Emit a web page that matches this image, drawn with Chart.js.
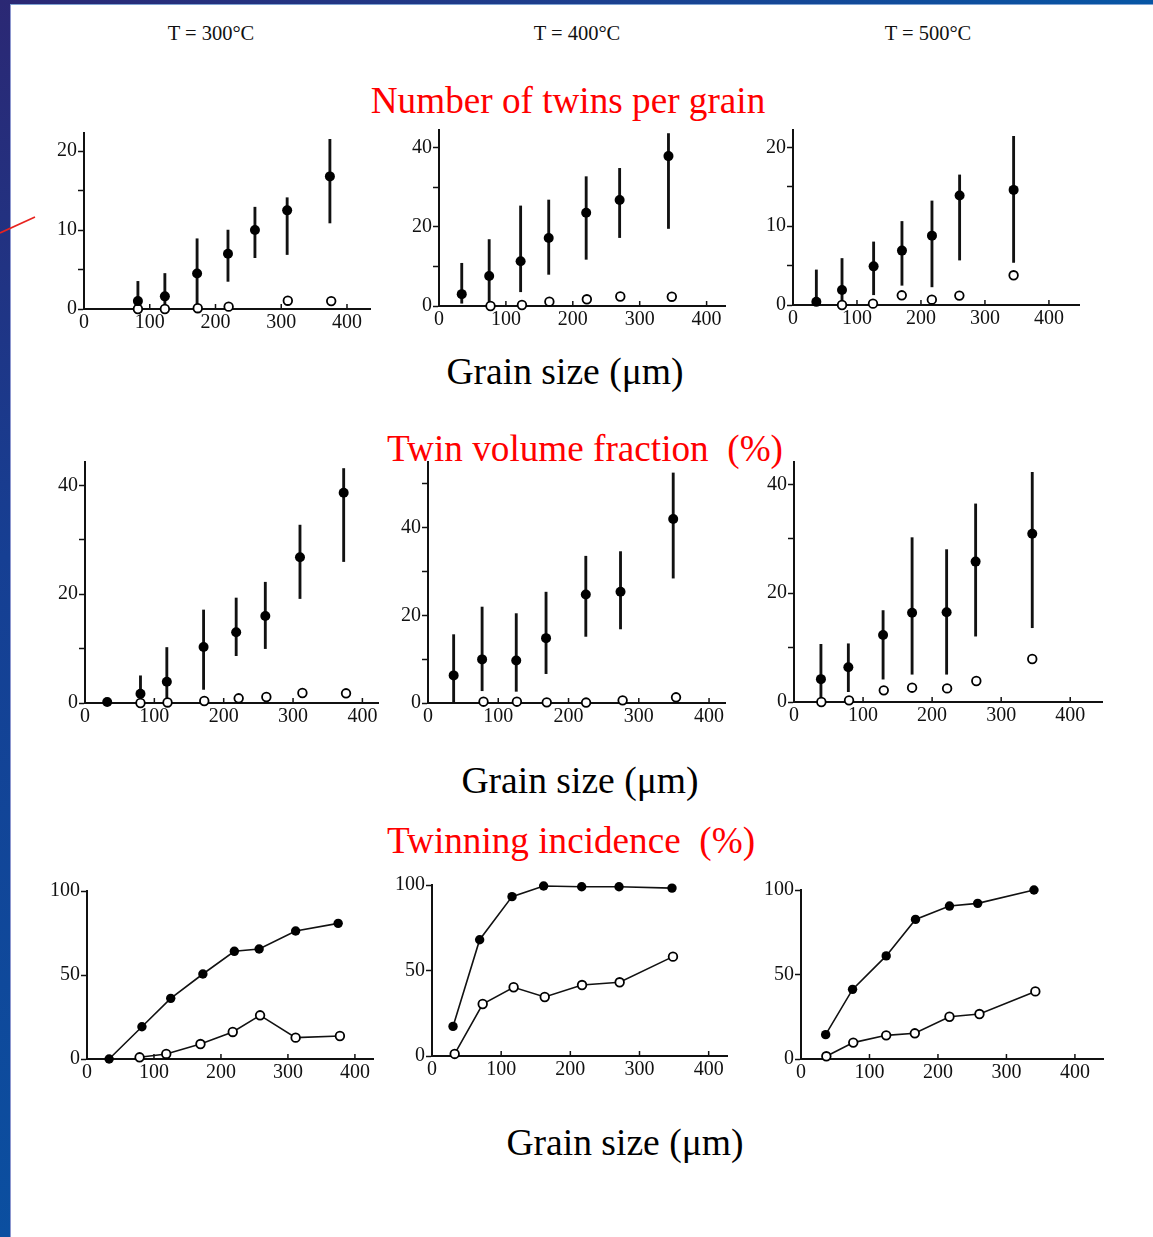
<!DOCTYPE html>
<html>
<head>
<meta charset="utf-8">
<title>Twinning vs grain size</title>
<script src="https://cdn.jsdelivr.net/npm/chart.js@4.4.1/dist/chart.umd.min.js"></script>
<style>
  html, body { margin: 0; padding: 0; background: #fff; }
  body { width: 1153px; height: 1237px; position: relative; overflow: hidden;
         font-family: 'Liberation Serif', 'Times New Roman', serif; }
  .frame-left { position: absolute; left: 0; top: 0; width: 10px; height: 1237px;
                background: linear-gradient(180deg, #2b2874 0%, #163f93 45%, #0b4fa0 100%); }
  .frame-left::after { content: ''; position: absolute; right: -1px; top: 4px; bottom: 0; width: 1px; background: #8d97cf; }
  .frame-top { position: absolute; left: 0; top: 0; width: 1153px; height: 4px;
               background: linear-gradient(90deg, #2b2874 0%, #1d3f8e 50%, #0756a5 100%); }
  .frame-top::after { content: ''; position: absolute; left: 10px; right: 0; bottom: -1px; height: 1px; background: #7fa3d3; }
  .panel { position: absolute; }
  .lbl { position: absolute; white-space: nowrap; line-height: 1; transform: translateX(-50%); }
  .temp { font-size: 20.5px; color: #111; }
  .head { font-size: 37.2px; color: #ff0000; }
  .axis-name { font-size: 37.6px; color: #000; }
  svg.mark { position: absolute; left: 0; top: 0; }
</style>
</head>
<body>
<div class="frame-left"></div>
<div class="frame-top"></div>
<svg class="mark" width="40" height="240"><line x1="0" y1="233" x2="35" y2="217" stroke="#e8231f" stroke-width="1.6"/></svg>

<div class="lbl temp" style="left:211px; top:23px;">T = 300°C</div>
<div class="lbl temp" style="left:577px; top:23px;">T = 400°C</div>
<div class="lbl temp" style="left:928px; top:23px;">T = 500°C</div>

<div class="lbl head" style="left:568px; top:82px;">Number of twins per grain</div>
<div class="lbl axis-name" style="left:565px; top:353px;">Grain size (μm)</div>
<div class="lbl head" style="left:585px; top:430px;">Twin volume fraction&nbsp; (%)</div>
<div class="lbl axis-name" style="left:580px; top:762px;">Grain size (μm)</div>
<div class="lbl head" style="left:571px; top:822px;">Twinning incidence&nbsp; (%)</div>
<div class="lbl axis-name" style="left:625px; top:1124px;">Grain size (μm)</div>

<canvas id="p1" class="panel"></canvas>
<canvas id="p2" class="panel"></canvas>
<canvas id="p3" class="panel"></canvas>
<canvas id="p4" class="panel"></canvas>
<canvas id="p5" class="panel"></canvas>
<canvas id="p6" class="panel"></canvas>
<canvas id="p7" class="panel"></canvas>
<canvas id="p8" class="panel"></canvas>
<canvas id="p9" class="panel"></canvas>

<script>
// ---- Number of twins per grain ----
const twins300SolidX  = [82, 123, 172, 219, 260, 309, 374];
const twins300SolidY  = [1.0, 1.6, 4.5, 7.0, 10.0, 12.5, 16.8];
const twins300Lo      = [0, 0, 0, 3.5, 6.5, 6.9, 10.9];
const twins300Hi      = [3.5, 4.5, 8.9, 10.0, 12.9, 14.1, 21.5];
const twins300HollowX = [82, 123, 173, 220, 310, 376];
const twins300HollowY = [0, 0, 0.1, 0.3, 1.05, 1.0];

const twins400SolidX  = [34, 75, 122, 164, 220, 270, 343];
const twins400SolidY  = [3.0, 7.6, 11.3, 17.2, 23.6, 26.8, 37.9];
const twins400Lo      = [0.7, 0, 3.6, 8.0, 11.8, 17.3, 19.6];
const twins400Hi      = [10.8, 16.8, 25.3, 26.8, 32.7, 34.8, 43.6];
const twins400HollowX = [77, 124, 165, 221, 271, 348];
const twins400HollowY = [0, 0.25, 1.1, 1.7, 2.4, 2.35];

const twins500SolidX  = [36.5, 76.6, 126, 170.3, 217.2, 260.4, 344.8];
const twins500SolidY  = [0.4, 1.9, 4.9, 6.9, 8.8, 13.9, 14.6];
const twins500Lo      = [0, 0, 1.3, 2.5, 2.3, 5.7, 5.4];
const twins500Hi      = [4.45, 5.9, 8.0, 10.6, 13.2, 16.5, 21.4];
const twins500HollowX = [76.6, 125, 170, 217, 260, 344.8];
const twins500HollowY = [0, 0.17, 1.23, 0.68, 1.19, 3.77];

// ---- Twin volume fraction (%) ----
const vol300SolidX  = [32, 80, 118, 171, 218, 260, 310, 373];
const vol300SolidY  = [0.2, 1.7, 3.9, 10.3, 13.0, 16.0, 26.8, 38.65];
const vol300Lo      = [0.2, 0, 0, 2.5, 8.7, 10.0, 19.2, 26.0];
const vol300Hi      = [0.2, 5.0, 10.2, 17.1, 19.3, 22.2, 32.7, 43.1];
const vol300HollowX = [80, 119, 172, 221.6, 261.5, 313.5, 376.4];
const vol300HollowY = [0, 0.1, 0.37, 0.86, 1.1, 1.84, 1.78];

const vol400SolidX  = [36.5, 77, 125.6, 168, 224.6, 274, 349];
const vol400SolidY  = [6.3, 9.95, 9.7, 14.8, 24.75, 25.4, 42.0];
const vol400Lo      = [0, 2.8, 2.66, 6.7, 15.2, 16.9, 28.5];
const vol400Hi      = [15.6, 21.9, 20.4, 25.3, 33.5, 34.55, 52.5];
const vol400HollowX = [79, 126.5, 169, 225, 277, 353];
const vol400HollowY = [0.3, 0.3, 0.15, 0.1, 0.6, 1.3];

const vol500SolidX  = [39, 78.7, 129, 171, 221, 263, 345];
const vol500SolidY  = [4.2, 6.4, 12.3, 16.4, 16.5, 25.8, 30.9];
const vol500Lo      = [0, 1.9, 4.2, 5.1, 5.1, 12.1, 13.65];
const vol500Hi      = [10.6, 10.7, 16.8, 30.2, 28.0, 36.4, 42.2];
const vol500HollowX = [39.6, 79.7, 130, 171, 221.7, 264, 345];
const vol500HollowY = [0, 0.3, 2.14, 2.63, 2.5, 3.86, 7.9];

// ---- Twinning incidence (%) ----
const inc300SolidX  = [33, 82, 125, 173, 220, 257, 311.5, 375];
const inc300SolidY  = [0, 19.2, 36.1, 50.6, 64.1, 65.5, 76.2, 80.75];
const inc300HollowX = [78.5, 118.3, 169.4, 217.6, 258.4, 311.5, 377.6];
const inc300HollowY = [1.0, 3.0, 8.9, 16.1, 26.0, 12.7, 13.7];

const inc400SolidX  = [30.4, 68.9, 115.7, 161.4, 216.4, 270.4, 347];
const inc400SolidY  = [17.3, 68.0, 93.2, 99.4, 99.0, 99.0, 98.2];
const inc400HollowX = [32.8, 73.3, 118, 163, 216.9, 271.3, 348.4];
const inc400HollowY = [1.2, 30.4, 40.2, 34.5, 41.5, 43.1, 58.1];

const inc500SolidX  = [36, 75.3, 124.4, 167.2, 216.8, 258, 340.2];
const inc500SolidY  = [14.4, 41.2, 61, 82.6, 90.5, 92.1, 100];
const inc500HollowX = [37, 76.3, 124.4, 166.2, 216.8, 260.6, 342.2];
const inc500HollowY = [1.6, 9.7, 14.0, 15.2, 25.0, 26.6, 40.0];

const xTickValues = [0, 100, 200, 300, 400];

// ---------------------------------------------------------------
Chart.defaults.font.family = "'Liberation Serif', 'Times New Roman', serif";
Chart.defaults.font.size = 20;
Chart.defaults.color = '#111';

const INK = '#111';
const Y_AXIS_W = 46, X_AXIS_H = 34, PAD_T = 16, PAD_R = 8;

// short tick marks pointing up from the x axis
const innerXTicks = {
  id: 'innerXTicks',
  afterDatasetsDraw(chart) {
    const xs = chart.scales.x, ctx = chart.ctx, y = chart.chartArea.bottom;
    ctx.save();
    ctx.strokeStyle = INK;
    ctx.lineWidth = 1.5;
    xs.ticks.forEach(t => {
      if (t.value === 0) return;
      const px = xs.getPixelForValue(t.value);
      ctx.beginPath();
      ctx.moveTo(px, y);
      ctx.lineTo(px, y - 5);
      ctx.stroke();
    });
    ctx.restore();
  }
};

const points = (xs, ys) => xs.map((x, i) => ({ x, y: ys[i] }));
const ranges = (xs, lo, hi) => xs.map((x, i) => ({ x, y: [lo[i], hi[i]] }));

function solidSet(xs, ys, joined) {
  return {
    type: 'scatter', data: points(xs, ys), order: 1, clip: false,
    pointRadius: joined ? 4.7 : 5, pointBackgroundColor: '#000', pointBorderColor: '#000', pointBorderWidth: 0,
    showLine: !!joined, borderColor: INK, borderWidth: 1.6
  };
}
function hollowSet(xs, ys, joined) {
  return {
    type: 'scatter', data: points(xs, ys), order: 2, clip: false,
    pointRadius: 4.3, pointBackgroundColor: '#fff', pointBorderColor: '#000', pointBorderWidth: 1.8,
    showLine: !!joined, borderColor: INK, borderWidth: 1.6
  };
}
function barsSet(xs, lo, hi) {
  return {
    type: 'bar', data: ranges(xs, lo, hi), order: 3, clip: false,
    barThickness: 2.2, backgroundColor: INK, borderWidth: 0
  };
}

// box: pixel position of the plot frame on the page
function panel(id, box, xMax, yMax, yStep, yLabelStep, datasets) {
  const cv = document.getElementById(id);
  const w = box.right - box.axisX + Y_AXIS_W + PAD_R;
  const h = box.bottom - box.top + PAD_T + X_AXIS_H;
  cv.width = w; cv.height = h;
  cv.style.width = w + 'px'; cv.style.height = h + 'px';
  cv.style.left = (box.axisX - Y_AXIS_W) + 'px';
  cv.style.top = (box.top - PAD_T) + 'px';

  new Chart(cv, {
    type: 'scatter',
    data: { datasets },
    plugins: [innerXTicks],
    options: {
      responsive: false, animation: false, devicePixelRatio: 1,
      layout: { padding: { top: PAD_T, right: PAD_R, left: 0, bottom: 0 } },
      plugins: { legend: { display: false }, tooltip: { enabled: false } },
      scales: {
        x: {
          type: 'linear', min: 0, max: xMax, offset: false,
          afterFit: s => { s.height = X_AXIS_H; },
          border: { display: true, color: INK, width: 2 },
          grid: { display: true, drawOnChartArea: false, drawTicks: false, offset: false, color: 'rgba(0,0,0,0)' },
          afterBuildTicks: s => { s.ticks = xTickValues.filter(v => v <= xMax).map(v => ({ value: v })); },
          ticks: { padding: 2, color: INK, maxRotation: 0, autoSkip: false, callback: v => String(v) }
        },
        y: {
          type: 'linear', min: 0, max: yMax,
          afterFit: s => { s.width = Y_AXIS_W; },
          border: { display: true, color: INK, width: 2 },
          grid: { display: true, drawOnChartArea: false, drawTicks: true, tickLength: 6, tickWidth: 1.5, tickColor: INK },
          ticks: {
            stepSize: yStep, includeBounds: false, padding: 1, color: INK, autoSkip: false,
            callback: v => (Math.abs(v % yLabelStep) < 1e-9 ? String(v) : '')
          }
        }
      }
    }
  });
}

// Number of twins per grain
panel('p1', { axisX: 84, right: 370, top: 133, bottom: 309 }, 435, 22.3, 5, 10, [
  barsSet(twins300SolidX, twins300Lo, twins300Hi),
  hollowSet(twins300HollowX, twins300HollowY),
  solidSet(twins300SolidX, twins300SolidY)
]);
panel('p2', { axisX: 439, right: 725, top: 130, bottom: 306 }, 427.5, 44.5, 10, 20, [
  barsSet(twins400SolidX, twins400Lo, twins400Hi),
  hollowSet(twins400HollowX, twins400HollowY),
  solidSet(twins400SolidX, twins400SolidY)
]);
panel('p3', { axisX: 793, right: 1079, top: 130, bottom: 305 }, 447, 22.2, 5, 10, [
  barsSet(twins500SolidX, twins500Lo, twins500Hi),
  hollowSet(twins500HollowX, twins500HollowY),
  solidSet(twins500SolidX, twins500SolidY)
]);

// Twin volume fraction
panel('p4', { axisX: 85, right: 378, top: 462, bottom: 703 }, 422.5, 44.3, 10, 20, [
  barsSet(vol300SolidX, vol300Lo, vol300Hi),
  hollowSet(vol300HollowX, vol300HollowY),
  solidSet(vol300SolidX, vol300SolidY)
]);
panel('p5', { axisX: 428, right: 725, top: 462, bottom: 703 }, 422.7, 55, 10, 20, [
  barsSet(vol400SolidX, vol400Lo, vol400Hi),
  hollowSet(vol400HollowX, vol400HollowY),
  solidSet(vol400SolidX, vol400SolidY)
]);
panel('p6', { axisX: 794, right: 1102, top: 462, bottom: 702 }, 446, 44.1, 10, 20, [
  barsSet(vol500SolidX, vol500Lo, vol500Hi),
  hollowSet(vol500HollowX, vol500HollowY),
  solidSet(vol500SolidX, vol500SolidY)
]);

// Twinning incidence
panel('p7', { axisX: 87, right: 373, top: 891, bottom: 1059 }, 427, 100, 50, 50, [
  hollowSet(inc300HollowX, inc300HollowY, true),
  solidSet(inc300SolidX, inc300SolidY, true)
]);
panel('p8', { axisX: 432, right: 727, top: 885, bottom: 1056 }, 426.5, 100, 50, 50, [
  hollowSet(inc400HollowX, inc400HollowY, true),
  solidSet(inc400SolidX, inc400SolidY, true)
]);
panel('p9', { axisX: 801, right: 1103, top: 890, bottom: 1059 }, 441, 100, 50, 50, [
  hollowSet(inc500HollowX, inc500HollowY, true),
  solidSet(inc500SolidX, inc500SolidY, true)
]);
</script>
</body>
</html>
